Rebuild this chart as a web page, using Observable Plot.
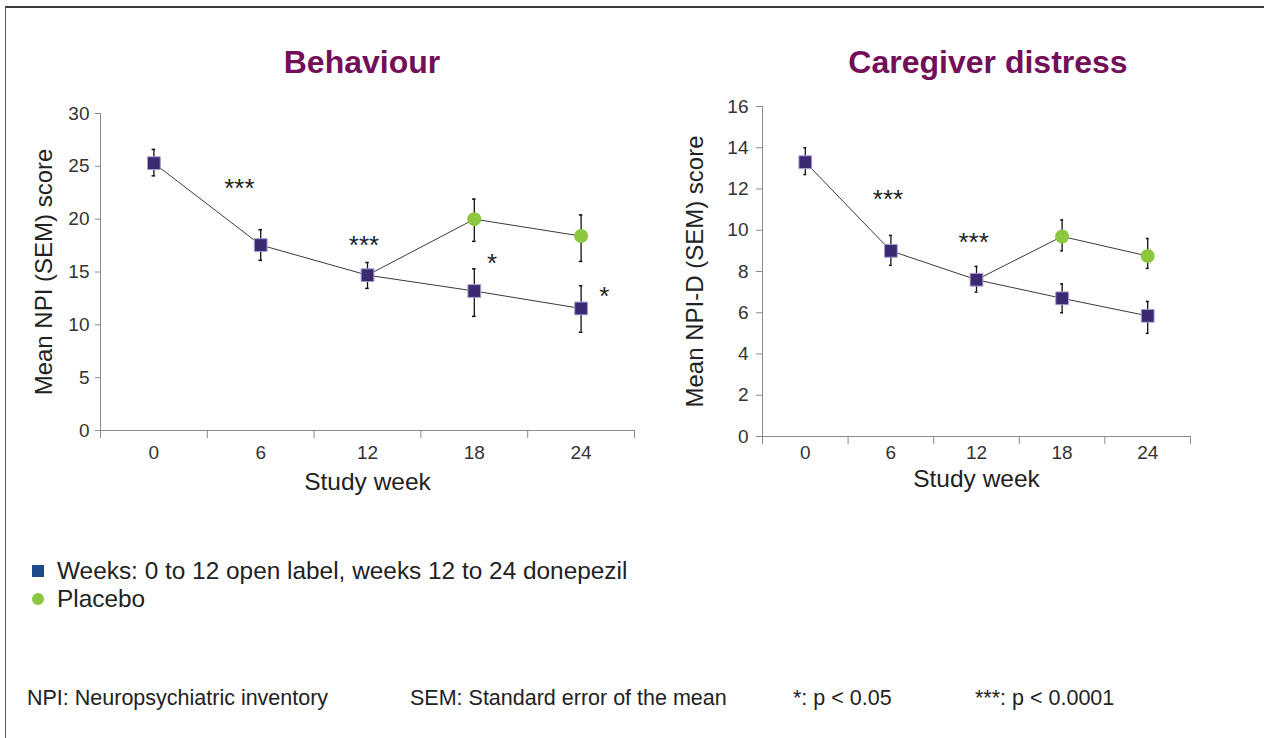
<!DOCTYPE html>
<html>
<head>
<meta charset="utf-8">
<script src="https://cdn.jsdelivr.net/npm/d3@7"></script>
<script src="https://cdn.jsdelivr.net/npm/@observablehq/plot@0.6"></script>
<style>
  html, body { margin: 0; padding: 0; background: #fff; }
  body { width: 1264px; height: 738px; position: relative; overflow: hidden;
         font-family: "Liberation Sans", Arial, Helvetica, sans-serif; color: #222; }
  .frame { position: absolute; left: 5px; top: 6px; width: 1300px; height: 800px;
           border-top: 2px solid #3a3a3a; border-left: 1.5px solid #555; }
  .title { position: absolute; top: 47px; font-weight: bold; font-size: 32px; line-height: 31px;
           color: #730e59; transform: translateX(-50%); white-space: nowrap; }
  .chart { position: absolute; top: 90px; }
  .legend { position: absolute; left: 32px; top: 557px; font-size: 24.4px; color: #222; }
  .legend .row { height: 28px; line-height: 28px; white-space: nowrap; }
  .sw { display: inline-block; vertical-align: middle; margin-right: 13px; position: relative; top: -2px; }
  .footer { position: absolute; top: 686px; font-size: 21.5px; line-height: 24px; color: #222; white-space: nowrap; }
</style>
</head>
<body>
<div class="frame"></div>
<div class="title" style="left:362px">Behaviour</div>
<div class="title" style="left:988px">Caregiver distress</div>
<div id="left" class="chart" style="left:0px"></div>
<div id="right" class="chart" style="left:640px"></div>
<div class="legend">
  <div class="row"><span class="sw" style="width:12px;height:12px;background:#1d4a8c"></span>Weeks: 0 to 12 open label, weeks 12 to 24 donepezil</div>
  <div class="row"><span class="sw" style="width:12px;height:12px;border-radius:50%;background:#8dc63f"></span>Placebo</div>
</div>
<div class="footer" style="left:27px">NPI: Neuropsychiatric inventory</div>
<div class="footer" style="left:410px">SEM: Standard error of the mean</div>
<div class="footer" style="left:793px">*: p &lt; 0.05</div>
<div class="footer" style="left:975px">***: p &lt; 0.0001</div>
<script>
// ---- shared categories / ticks ----
const weeks = [0, 6, 12, 18, 24];
const placeboWeeks = [18, 24];
const xTickMarks = [-3, 3, 9, 15, 21, 27];

// ---- Behaviour (NPI) ----
const behDonMean = [25.3, 17.55, 14.7, 13.2, 11.55];
const behDonLo   = [24.1, 16.1, 13.45, 10.8, 9.3];
const behDonHi   = [26.6, 19.0, 15.9, 15.3, 13.7];
const behPlaMean = [20.0, 18.4];
const behPlaLo   = [17.9, 16.0];
const behPlaHi   = [21.9, 20.4];
const behStarWeek  = [4.8, 11.8, 19.0, 25.3];
const behStarValue = [23.5, 18.1, 16.4, 13.2];
const behStarText  = ["***", "***", "*", "*"];
const behYTicks = [0, 5, 10, 15, 20, 25, 30];

// ---- Caregiver distress (NPI-D) ----
const careDonMean = [13.3, 9.0, 7.6, 6.7, 5.85];
const careDonLo   = [12.7, 8.3, 7.0, 6.0, 5.0];
const careDonHi   = [14.0, 9.75, 8.25, 7.4, 6.55];
const carePlaMean = [9.7, 8.75];
const carePlaLo   = [9.0, 8.15];
const carePlaHi   = [10.5, 9.6];
const careStarWeek  = [5.8, 11.8];
const careStarValue = [11.75, 9.7];
const careStarText  = ["***", "***"];
const careYTicks = [0, 2, 4, 6, 8, 10, 12, 14, 16];

const donColor = "#3b2a72";
const donStroke = "#a89cd0";
const plaColor = "#8dc63f";
const axisColor = "#8a8a8a";

function makeChart(cfg) {
  const don = weeks.map((w, i) => ({week: w, mean: cfg.donMean[i], lo: cfg.donLo[i], hi: cfg.donHi[i]}));
  const pla = placeboWeeks.map((w, i) => ({week: w, mean: cfg.plaMean[i], lo: cfg.plaLo[i], hi: cfg.plaHi[i]}));
  const plaLine = [don[weeks.indexOf(12)], ...pla];
  const stars = cfg.starWeek.map((w, i) => ({week: w, v: cfg.starValue[i], t: cfg.starText[i]}));
  const bars = [...don, ...pla];
  return Plot.plot({
    width: cfg.width, height: 420,
    marginLeft: cfg.ml, marginRight: cfg.mr, marginTop: cfg.mt, marginBottom: cfg.mb,
    style: {fontFamily: "'Liberation Sans', Arial, Helvetica, sans-serif", background: "transparent", color: "#333", overflow: "visible"},
    x: {domain: [-3, 27]},
    y: {domain: cfg.yDomain},
    marks: [
      Plot.frame({anchor: "left", stroke: axisColor}),
      Plot.frame({anchor: "bottom", stroke: axisColor}),
      Plot.axisY({ticks: cfg.yTicks, tickSize: cfg.yTickSize, tickPadding: cfg.yTickPad, stroke: axisColor, fill: "#333", fontSize: 19, label: null}),
      Plot.axisY({ticks: cfg.yTicks, tickSize: 0, tickFormat: () => "", label: cfg.yLabel, labelAnchor: "center", labelArrow: "none", labelOffset: cfg.yLabelOffset, fill: "#222", fontSize: 24}),
      Plot.axisX({ticks: xTickMarks, tickSize: 8, tickFormat: () => "", stroke: axisColor, label: null}),
      Plot.axisX({ticks: weeks, tickSize: 0, tickPadding: cfg.xTickPad, fill: "#333", fontSize: 19, label: null}),
      Plot.axisX({ticks: weeks, tickSize: 0, tickFormat: () => "", label: "Study week", labelAnchor: "center", labelArrow: "none", labelOffset: cfg.xLabelOffset, fill: "#222", fontSize: 24.5}),
      Plot.line(don, {x: "week", y: "mean", stroke: "#3a3a3a", strokeWidth: 1}),
      Plot.line(plaLine, {x: "week", y: "mean", stroke: "#3a3a3a", strokeWidth: 1}),
      Plot.ruleX(bars, {x: "week", y1: "lo", y2: "hi", stroke: "#111", strokeWidth: 1.3}),
      Plot.ruleY(bars, {y: "lo", x1: d => d.week - 0.1, x2: d => d.week + 0.1, stroke: "#111", strokeWidth: 1.5}),
      Plot.ruleY(bars, {y: "hi", x1: d => d.week - 0.1, x2: d => d.week + 0.1, stroke: "#111", strokeWidth: 1.5}),
      Plot.dot(don, {x: "week", y: "mean", symbol: "square", r: 7.2, fill: donColor, stroke: donStroke, strokeWidth: 1}),
      Plot.dot(pla, {x: "week", y: "mean", symbol: "circle", r: 7, fill: plaColor, stroke: "none"}),
      Plot.text(stars, {x: "week", y: "v", text: "t", fontSize: 26, fill: "#222", dy: 6})
    ]
  });
}

document.getElementById("left").append(makeChart({
  width: 640, ml: 100, mr: 6, mt: 23, mb: 80,
  yDomain: [0, 30], yTicks: behYTicks, yTickSize: 5, yTickPad: 6,
  yLabel: "Mean NPI (SEM) score", yLabelOffset: 66, xTickPad: 15, xLabelOffset: 59,
  donMean: behDonMean, donLo: behDonLo, donHi: behDonHi,
  plaMean: behPlaMean, plaLo: behPlaLo, plaHi: behPlaHi,
  starWeek: behStarWeek, starValue: behStarValue, starText: behStarText
}));

document.getElementById("right").append(makeChart({
  width: 624, ml: 122, mr: 74, mt: 16, mb: 74,
  yDomain: [0, 16], yTicks: careYTicks, yTickSize: 6, yTickPad: 8,
  yLabel: "Mean NPI-D (SEM) score", yLabelOffset: 77, xTickPad: 9, xLabelOffset: 50,
  donMean: careDonMean, donLo: careDonLo, donHi: careDonHi,
  plaMean: carePlaMean, plaLo: carePlaLo, plaHi: carePlaHi,
  starWeek: careStarWeek, starValue: careStarValue, starText: careStarText
}));
</script>
</body>
</html>
